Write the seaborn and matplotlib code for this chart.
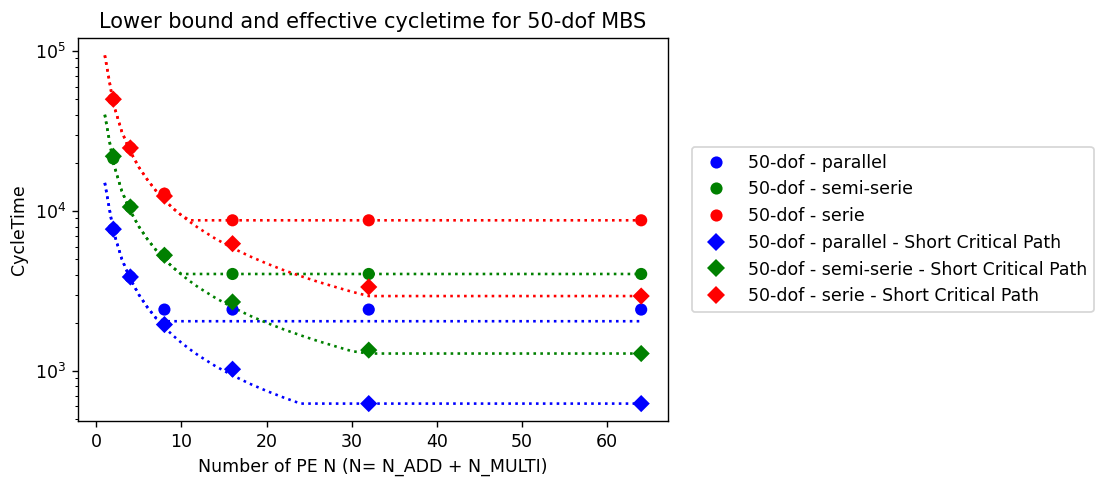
import numpy as np
import pandas as pd
import matplotlib
matplotlib.use("Agg")
import matplotlib.pyplot as plt
import seaborn as sns

# ---- measured points ----
N_points = [2, 4, 8, 16, 32, 64]
parallel = [7700, 3870, 2420, 2420, 2420, 2420]
semi_serie = [21300, 10600, 5290, 4040, 4040, 4040]
serie = [50000, 24800, 12850, 8750, 8750, 8750]
parallel_scp = [7700, 3870, 1950, 1025, 625, 625]
semi_serie_scp = [22000, 10600, 5290, 2700, 1350, 1285]
serie_scp = [50000, 24800, 12400, 6250, 3350, 2940]

# ---- lower-bound curves ----
N_curve = [1, 2, 3, 4, 5, 6, 7, 8, 9, 10, 11, 12, 14, 16, 18, 20, 22, 24, 26, 28, 30, 32, 64]
lb_parallel = [15000, 7500, 5000, 3750, 3000, 2500, 2143, 2046, 2046, 2046, 2046, 2046,
               2046, 2046, 2046, 2046, 2046, 2046, 2046, 2046, 2046, 2046, 2046]
lb_semi_serie = [40000, 20000, 13300, 10000, 8000, 6670, 5710, 5000, 4440, 4040, 4040, 4040,
                 4040, 4040, 4040, 4040, 4040, 4040, 4040, 4040, 4040, 4040, 4040]
lb_serie = [94000, 47000, 31300, 23500, 18800, 15700, 13400, 11750, 10400, 9400, 8750, 8750,
            8750, 8750, 8750, 8750, 8750, 8750, 8750, 8750, 8750, 8750, 8750]
lb_parallel_scp = [15000, 7500, 5000, 3750, 3000, 2500, 2143, 1875, 1667, 1500, 1364, 1250,
                   1071, 938, 833, 750, 682, 625, 625, 625, 625, 625, 625]
lb_semi_serie_scp = [40000, 20000, 13300, 10000, 8000, 6670, 5710, 5000, 4440, 4000, 3640, 3330,
                     2860, 2500, 2220, 2000, 1820, 1670, 1540, 1430, 1330, 1285, 1285]
lb_serie_scp = [94000, 47000, 31300, 23500, 18800, 15700, 13400, 11750, 10400, 9400, 8550, 7830,
                6710, 5875, 5220, 4700, 4270, 3920, 3615, 3360, 3130, 2940, 2940]

labels = ["50-dof - parallel", "50-dof - semi-serie", "50-dof - serie",
          "50-dof - parallel - Short Critical Path",
          "50-dof - semi-serie - Short Critical Path",
          "50-dof - serie - Short Critical Path"]
colors = ["blue", "green", "red", "blue", "green", "red"]
markers = ["o", "o", "o", "D", "D", "D"]
point_series = [parallel, semi_serie, serie, parallel_scp, semi_serie_scp, serie_scp]
curve_series = [lb_parallel, lb_semi_serie, lb_serie, lb_parallel_scp, lb_semi_serie_scp, lb_serie_scp]

df = pd.DataFrame({
    "N": np.concatenate([N_points] * 6),
    "CycleTime": np.concatenate(point_series),
    "label": np.repeat(labels, len(N_points)),
})

fig = plt.figure(figsize=(1099 / 125, 478 / 125), dpi=125)
ax = fig.add_axes([78 / 1099, 57 / 478, 590 / 1099, 383 / 478])

for curve, c in zip(curve_series, colors):
    sns.lineplot(x=N_curve, y=curve, color=c, linestyle=":", linewidth=1.5,
                 estimator=None, ax=ax, legend=False)

sns.scatterplot(data=df, x="N", y="CycleTime", hue="label", style="label",
                hue_order=labels, style_order=labels,
                palette=dict(zip(labels, colors)), markers=dict(zip(labels, markers)),
                s=49, linewidth=0, ax=ax, zorder=3)

ax.set_yscale("log")
ax.set_title("Lower bound and effective cycletime for 50-dof MBS")
ax.set_xlabel("Number of PE N (N= N_ADD + N_MULTI)")
ax.set_ylabel("CycleTime")
ax.set_xticks([0, 10, 20, 30, 40, 50, 60])

handles, labs = ax.get_legend_handles_labels()
ax.legend(handles, labs, loc="center left", bbox_to_anchor=(1.0407, 0.5), borderaxespad=0)

fig.savefig("out.png", dpi=125)
